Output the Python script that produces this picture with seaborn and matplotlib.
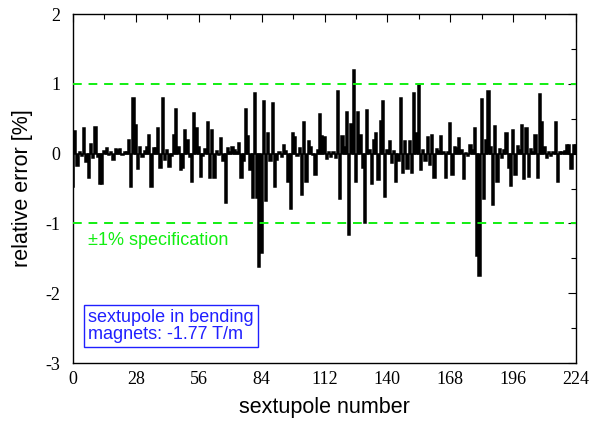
import numpy as np
import pandas as pd
import matplotlib
matplotlib.use("Agg")
import matplotlib.pyplot as plt
from matplotlib.ticker import MultipleLocator
import seaborn as sns

sextupole = list(range(0, 225))
rel_error = [
    -0.48, 0.33, -0.18, 0.02, -0.03, 0.37, -0.12, -0.35, 0.14, -0.06,
    0.38, -0.05, -0.44, -0.43, 0.04, 0.08, -0.02, 0.03, -0.09, 0.06,
    0.05, 0.06, -0.02, 0.03, 0.02, 0.19, -0.48, 0.80, 0.41, -0.22,
    0.10, -0.05, 0.04, 0.10, 0.27, -0.48, 0.08, 0.08, 0.37, -0.20,
    0.80, -0.09, 0.05, -0.19, -0.03, 0.27, 0.64, 0.10, -0.23, -0.20,
    0.34, 0.20, -0.05, -0.40, 0.58, 0.37, 0.10, -0.33, -0.03, 0.06,
    0.45, -0.35, 0.34, -0.35, 0.04, -0.02, 0.22, -0.10, -0.71, 0.08,
    0.03, 0.10, 0.05, 0.03, 0.15, -0.35, -0.10, 0.64, 0.25, -0.23,
    -0.63, 0.87, -0.63, -1.63, -1.42, 0.76, -0.68, 0.29, -0.10, 0.72,
    -0.48, -0.09, 0.03, -0.05, 0.13, 0.04, -0.41, -0.79, 0.30, 0.24,
    -0.04, 0.08, -0.59, 0.46, -0.40, 0.18, 0.10, -0.02, -0.30, 0.05,
    0.57, 0.25, 0.24, -0.08, 0.03, -0.05, 0.02, -0.06, 0.89, -0.65,
    0.25, 0.10, 0.60, -1.17, 0.42, 1.20, -0.40, 0.59, 0.26, -0.20,
    -1.00, 0.62, 0.05, -0.44, 0.19, 0.30, -0.38, 0.47, 0.76, -0.62,
    0.05, 0.18, -0.13, 0.04, -0.41, -0.10, 0.80, -0.28, 0.18, -0.22,
    0.18, -0.28, 0.87, 0.30, 0.99, -0.23, 0.05, -0.10, 0.24, -0.16,
    0.27, -0.35, 0.06, 0.04, 0.25, 0.02, -0.35, 0.03, 0.44, -0.30,
    0.10, 0.08, 0.22, 0.05, -0.36, 0.01, -0.03, 0.13, 0.05, 0.37,
    -1.47, -1.75, 0.78, -0.65, 0.20, 0.90, 0.10, -0.73, 0.39, -0.41,
    0.06, -0.07, 0.05, 0.30, -0.20, -0.46, 0.34, -0.30, 0.11, 0.05,
    0.41, -0.37, 0.37, -0.33, 0.07, 0.02, 0.27, -0.35, 0.86, 0.46,
    0.10, -0.06, 0.02, -0.03, 0.03, 0.46, -0.41, 0.03, 0.02, 0.04,
    0.13, 0.12, -0.22, 0.13, 0.13,
]
spec_limits = [1.0, -1.0]
x_ticks = [0, 28, 56, 84, 112, 140, 168, 196, 224]
y_ticks = [-3, -2, -1, 0, 1, 2]

df = pd.DataFrame({"sextupole": sextupole, "error": rel_error})

sns.set_theme(style="white")
plt.rcParams["font.family"] = ["Liberation Sans", "DejaVu Sans"]
plt.rcParams["axes.unicode_minus"] = False

fig = plt.figure(figsize=(5.9, 4.22), dpi=100)
ax = fig.add_axes([0.1237, 0.1398, 0.8526, 0.8270])

sns.barplot(data=df, x="sextupole", y="error", native_scale=True, orient="x",
            width=1.0, color="black", saturation=1, edgecolor="black",
            linewidth=1.1, errorbar=None, ax=ax)

green = "#11ee11"
for lim in spec_limits:
    ax.axhline(lim, color=green, lw=1.4, ls=(0, (4.5, 3.5)), zorder=3)

ax.set_xlim(0, 224)
ax.set_ylim(-3, 2)
ax.set_xticks(x_ticks)
ax.set_yticks(y_ticks)
ax.xaxis.set_minor_locator(MultipleLocator(14))
ax.yaxis.set_minor_locator(MultipleLocator(0.5))
ax.tick_params(which="both", direction="in", top=True, right=True,
               color="black", width=0.8)
ax.tick_params(which="major", length=6)
ax.tick_params(axis="x", which="major", pad=6)
ax.tick_params(axis="y", which="major", pad=9)
ax.tick_params(which="minor", length=3.5)
for lab in ax.get_xticklabels() + ax.get_yticklabels():
    lab.set_family(["Liberation Serif", "DejaVu Serif"])
    lab.set_fontsize(13)
    lab.set_color("black")
for sp in ax.spines.values():
    sp.set_color("black")
    sp.set_linewidth(1.0)

ax.set_xlabel("sextupole number", fontsize=15.5, color="black", labelpad=6)
ax.set_ylabel("relative error [%]", fontsize=15.5, color="black", labelpad=9)

ax.text(6.5, -1.25, "±1% specification", color=green, fontsize=13, va="center", ha="left")
ax.text(6.8, -2.47, "sextupole in bending\nmagnets: -1.77 T/m", color="#2020ff",
        fontsize=13, va="center", ha="left", linespacing=1.0,
        bbox=dict(boxstyle="square,pad=0.22", fc="white", ec="#2020ff", lw=1.0))

fig.savefig("out.png", dpi=100)
